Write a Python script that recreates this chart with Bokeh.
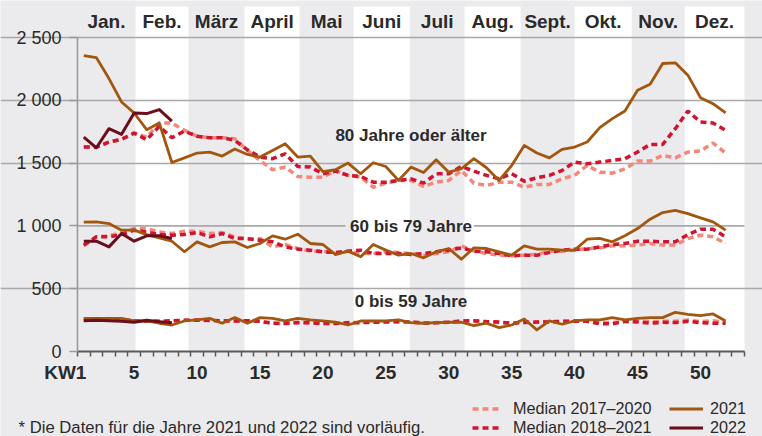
from bokeh.plotting import figure
from bokeh.models import (FixedTicker, Label, LabelSet, ColumnDataSource, Legend,
                          LegendItem, Range1d)
from bokeh.core.properties import value
from bokeh.embed import file_html
from bokeh.resources import INLINE

# ---------------- data ----------------
weeks = list(range(1, 53))
weeks_2022 = list(range(1, 9))

# 80 Jahre oder älter
m1720_80 = [1628, 1628, 1668, 1689, 1739, 1707, 1819, 1819, 1761, 1715,
            1702, 1702, 1694, 1601, 1521, 1447, 1468, 1394, 1388, 1388,
            1441, 1402, 1388, 1308, 1340, 1362, 1362, 1314, 1348, 1362,
            1441, 1340, 1322, 1348, 1348, 1308, 1330, 1330, 1375, 1402,
            1481, 1428, 1420, 1455, 1516, 1516, 1561, 1542, 1588, 1596,
            1660, 1580]
m1821_80 = [1628, 1628, 1668, 1689, 1739, 1686, 1793, 1702, 1755, 1713,
            1702, 1702, 1681, 1606, 1548, 1535, 1574, 1473, 1468, 1415,
            1436, 1402, 1394, 1348, 1348, 1362, 1375, 1340, 1415, 1415,
            1473, 1436, 1402, 1375, 1415, 1356, 1383, 1402, 1441, 1508,
            1495, 1508, 1521, 1535, 1588, 1649, 1649, 1774, 1915, 1827,
            1819, 1761]
y2021_80 = [2355, 2340, 2173, 1987, 1899, 1766, 1819, 1505, 1542, 1580,
            1588, 1556, 1612, 1569, 1548, 1601, 1654, 1548, 1556, 1433,
            1447, 1500, 1415, 1503, 1473, 1362, 1468, 1425, 1527, 1428,
            1455, 1535, 1463, 1362, 1481, 1641, 1580, 1542, 1609, 1628,
            1668, 1782, 1854, 1915, 2080, 2128, 2293, 2298, 2200, 2021,
            1973, 1899]
y2022_80 = [1707, 1622, 1774, 1729, 1899, 1894, 1926, 1835]

# 60 bis 79 Jahre
m1720_60 = [841, 913, 921, 947, 979, 979, 952, 939, 958, 958,
            939, 947, 913, 894, 899, 833, 852, 820, 799, 799,
            780, 799, 780, 780, 794, 788, 780, 767, 780, 794,
            841, 799, 780, 767, 762, 767, 772, 799, 799, 807,
            820, 825, 841, 841, 847, 860, 847, 847, 899, 926,
            913, 860]
m1821_60 = [847, 913, 913, 931, 966, 952, 931, 926, 931, 947,
            913, 939, 899, 899, 886, 873, 833, 815, 807, 794,
            788, 799, 807, 780, 780, 780, 772, 780, 794, 807,
            825, 799, 794, 780, 762, 767, 767, 788, 807, 815,
            815, 833, 852, 860, 878, 878, 873, 873, 931, 974,
            974, 913]
y2021_60 = [1030, 1032, 1019, 966, 966, 931, 905, 878, 794, 873,
            833, 868, 873, 828, 860, 921, 894, 934, 860, 852,
            772, 799, 754, 852, 807, 767, 780, 746, 794, 820,
            735, 825, 820, 794, 767, 841, 815, 815, 807, 807,
            894, 900, 873, 921, 979, 1053, 1106, 1124, 1098, 1064,
            1032, 966]
y2022_60 = [878, 878, 833, 939, 878, 921, 921, 899]

# 0 bis 59 Jahre
m1720_0 = [251, 255, 255, 255, 245, 245, 240, 245, 248, 250,
           245, 245, 243, 243, 240, 225, 225, 232, 230, 225,
           225, 230, 232, 235, 237, 238, 235, 228, 230, 235,
           245, 240, 232, 230, 225, 235, 235, 238, 238, 242,
           243, 235, 230, 238, 242, 238, 240, 240, 250, 238,
           245, 230]
m1821_0 = [251, 251, 251, 251, 245, 240, 240, 245, 248, 250,
           248, 245, 243, 245, 240, 225, 222, 230, 228, 222,
           222, 228, 230, 232, 235, 238, 235, 225, 228, 232,
           242, 245, 238, 235, 225, 230, 235, 235, 240, 242,
           240, 222, 220, 240, 235, 225, 232, 230, 240, 230,
           225, 225]
y2021_0 = [264, 264, 264, 264, 243, 243, 225, 211, 243, 251,
           264, 225, 270, 225, 270, 264, 243, 264, 251, 243,
           233, 211, 243, 243, 243, 251, 230, 225, 230, 233,
           233, 206, 225, 190, 211, 259, 172, 243, 217, 243,
           251, 251, 270, 251, 264, 270, 270, 312, 296, 286,
           299, 243]
y2022_0 = [245, 248, 245, 240, 233, 248, 237, 228]

months = ["Jan.", "Feb.", "März", "April", "Mai", "Juni",
          "Juli", "Aug.", "Sept.", "Okt.", "Nov.", "Dez."]
month_edges = [0.5, 5.11, 9.32, 13.77, 18.15, 22.44, 26.91,
               31.26, 35.71, 40.0, 44.54, 48.75, 53.5]

y_ticks = [0, 500, 1000, 1500, 2000, 2500]
y_tick_labels = ["0", "500", "1 000", "1 500", "2 000", "2 500"]
x_ticks = [1, 5, 10, 15, 20, 25, 30, 35, 40, 45, 50]
x_tick_labels = ["KW1" + "\u00a0" * 7, "5", "10", "15", "20", "25", "30",
                 "35", "40", "45", "50"]

group_labels = ["80 Jahre oder älter", "60 bis 79 Jahre", "0 bis 59 Jahre"]
group_label_y = [1722, 995, 398]

series_names = ["Median 2017–2020", "Median 2018–2021", "2021", "2022"]
footnote = "* Die Daten für die Jahre 2021 und 2022 sind vorläufig."

# ---------------- style ----------------
BG = "#EBEBED"
SALMON = "#F4877A"
RED = "#CF1530"
BROWN = "#A3560E"
MAROON = "#6B0D1B"
TXT = "#2A2A2A"
GRID = "#A9A9AB"
FONT = "Liberation Sans"
W, H = 762, 436
X0, X1 = 0.5, 53.5          # week axis extent
Y_AX_TOP = 2500             # top of value axis
BAND_TOP = 2747             # top of the month bands / header
MONTH_LABEL_Y = 2627

# The frame fills the whole canvas; axes are drawn at fixed locations inside.
px_x = 667 / (X1 - X0)
px_y = 314 / Y_AX_TOP
x_range = Range1d(X0 - 77 / px_x, X1 + 18 / px_x)
y_range = Range1d(-(H - 351) / px_y, Y_AX_TOP + 37 / px_y)

p = figure(width=W, height=H, x_range=x_range, y_range=y_range,
           output_backend="svg", toolbar_location=None,
           min_border=0, min_border_left=0, min_border_right=0,
           min_border_top=0, min_border_bottom=0,
           background_fill_color=BG, border_fill_color=BG,
           outline_line_color=None)

# month bands (white for every second month)
bands = p.quad(left=month_edges[1:-1:2], right=month_edges[2::2],
               bottom=0, top=BAND_TOP, fill_color="white", line_color=None)
bands.level = "image"

month_src = ColumnDataSource(dict(
    x=[(month_edges[i] + month_edges[i + 1]) / 2 for i in range(12)],
    text=months))
p.add_layout(LabelSet(x="x", y=MONTH_LABEL_Y, text="text", source=month_src,
                      text_align="center", text_baseline="middle",
                      text_font=value(FONT), text_font_style="bold",
                      text_font_size="19px", text_color=TXT))

# grid
p.xgrid.visible = False
p.ygrid.ticker = FixedTicker(ticks=[t for t in y_ticks if t not in (0, 1000)])
p.ygrid.bounds = (X0, X1)
p.ygrid.grid_line_color = GRID
p.ygrid.grid_line_width = 1.6
# gridline at 1000 is interrupted by the group label
p.segment(x0=[X0, 32.0], y0=[1000, 1000], x1=[21.8, X1], y1=[1000, 1000],
          line_color=GRID, line_width=1.6)

# axes
ya = p.yaxis[0]
ya.fixed_location = X0
ya.ticker = FixedTicker(ticks=y_ticks)
ya.major_label_overrides = dict(zip(y_ticks, y_tick_labels))
ya.bounds = (0, Y_AX_TOP)
ya.axis_line_color = "#9A9A9C"
ya.axis_line_width = 1.6
ya.major_tick_line_color = "#9A9A9C"
ya.major_tick_line_width = 1.6
ya.major_tick_out = 8
ya.major_tick_in = 0
ya.minor_tick_line_color = None
ya.major_label_standoff = 8
ya.major_label_text_font = FONT
ya.major_label_text_font_size = "18px"
ya.major_label_text_color = TXT

xa = p.xaxis[0]
xa.fixed_location = 0
xa.ticker = FixedTicker(ticks=x_ticks, minor_ticks=[w - 0.5 for w in range(1, 55)])
xa.major_label_overrides = dict(zip(x_ticks, x_tick_labels))
xa.bounds = (X0, X1)
xa.axis_line_color = "#5A5A5A"
xa.axis_line_width = 2
xa.major_tick_line_color = None
xa.major_tick_out = 0
xa.major_tick_in = 0
xa.minor_tick_line_color = "#5A5A5A"
xa.minor_tick_line_width = 1.5
xa.minor_tick_out = 5
xa.minor_tick_in = 0
xa.major_label_standoff = 5
xa.major_label_text_font = FONT
xa.major_label_text_font_style = "bold"
xa.major_label_text_font_size = "19px"
xa.major_label_text_color = TXT

# lines
groups = [(m1720_80, m1821_80, y2021_80, y2022_80),
          (m1720_60, m1821_60, y2021_60, y2022_60),
          (m1720_0, m1821_0, y2021_0, y2022_0)]
styles = [dict(line_color=SALMON, line_width=3.5, line_dash="6 4"),
          dict(line_color=RED, line_width=3.5, line_dash="6 4"),
          dict(line_color=BROWN, line_width=2.8, line_join="round"),
          dict(line_color=MAROON, line_width=3, line_join="round")]
legend_renderers = None
for g in groups:
    r1 = p.line(weeks, g[0], **styles[0])
    r2 = p.line(weeks, g[1], **styles[1])
    r3 = p.line(weeks, g[2], **styles[2])
    r4 = p.line(weeks_2022, g[3], **styles[3])
    if legend_renderers is None:
        legend_renderers = [r1, r2, r3, r4]

# group labels
for txt, yv in zip(group_labels, group_label_y):
    p.add_layout(Label(x=27, y=yv, text=txt, text_align="center",
                       text_baseline="middle", text_font=FONT,
                       text_font_style="bold", text_font_size="17px",
                       text_color=TXT))

# footnote (screen units, measured from the bottom-left corner)
p.add_layout(Label(x=18, y=9, x_units="screen", y_units="screen", text=footnote,
                   text_align="left", text_baseline="middle", text_font=FONT,
                   text_font_size="16.7px", text_color=TXT))

# legend: one small legend per entry so each can sit exactly where it should
leg_common = dict(label_text_font=FONT, label_text_font_size="16.2px",
                  label_text_color=TXT, glyph_height=17, label_height=17,
                  spacing=0, padding=0, margin=0, border_line_color=None,
                  background_fill_alpha=0)
leg_pos = [(472, 18), (472, -1), (669, 18), (669, -1)]
for i in range(4):
    dashed = i < 2
    p.add_layout(Legend(items=[LegendItem(label=series_names[i],
                                          renderers=[legend_renderers[i]])],
                        location=leg_pos[i],
                        glyph_width=28 if dashed else 34,
                        label_standoff=13 if dashed else 7,
                        **leg_common), "center")

open("out.html", "w").write(file_html(p, INLINE))
